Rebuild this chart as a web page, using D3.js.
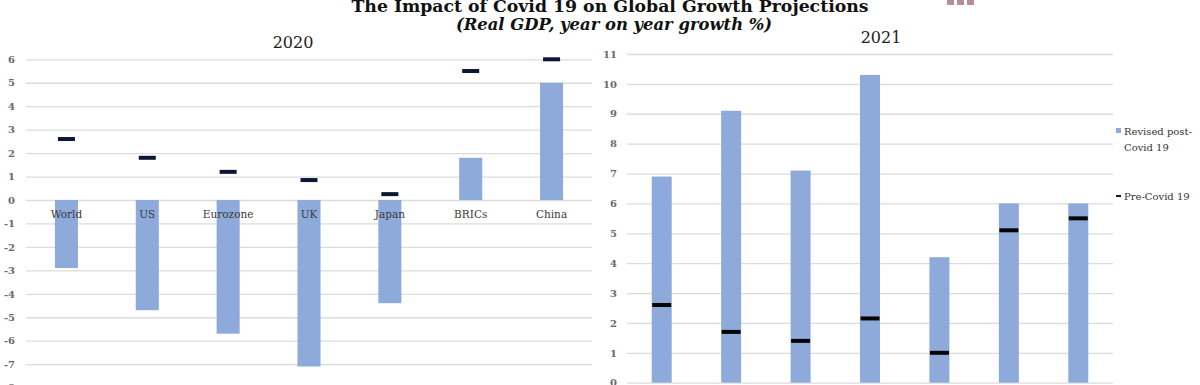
<!DOCTYPE html>
<html>
<head>
  <meta http-equiv="Content-Type" content="text/html; charset=UTF-8" />
  <title>The Impact of Covid 19 on Global Growth Projections</title>
  <style>
    body { padding: 0; margin: 0; background: #fff; }
    text { font-family: "DejaVu Serif", Georgia, serif; }
  </style>
</head>
<body>

<svg width="1200" height="385"></svg>

<script src="https://d3js.org/d3.v7.min.js"></script>
<script>

var categories = ["World", "US", "Eurozone", "UK", "Japan", "BRICs", "China"]

// 2020
var revised2020 = [-2.9, -4.7, -5.7, -7.1, -4.4, 1.8, 5.0]
var pre2020 = [2.6, 1.8, 1.2, 0.85, 0.25, 5.5, 6.0]
var ticks2020 = [-8, -7, -6, -5, -4, -3, -2, -1, 0, 1, 2, 3, 4, 5, 6]

// 2021
var revised2021 = [6.9, 9.1, 7.1, 10.3, 4.2, 6.0, 6.0]
var pre2021 = [2.6, 1.7, 1.4, 2.15, 1.0, 5.1, 5.5]
var ticks2021 = [0, 1, 2, 3, 4, 5, 6, 7, 8, 9, 10, 11]

var legendLabels = [["Revised post-", "Covid 19"], ["Pre-Covid 19"]]

var barColor = "#8eaadb"
var gridColor = "#dcdcdc"

var svg = d3.select("svg")

// titles
svg.append("text")
  .attr("x", 610).attr("y", 12)
  .attr("text-anchor", "middle")
  .style("font-size", "17.3px").style("font-weight", "bold")
  .style("fill", "#111")
  .text("The Impact of Covid 19 on Global Growth Projections")

svg.append("text")
  .attr("x", 614).attr("y", 30)
  .attr("text-anchor", "middle")
  .style("font-size", "16.4px").style("font-weight", "bold").style("font-style", "italic")
  .style("fill", "#111")
  .text("(Real GDP, year on year growth %)")

// little logo blocks, top right
svg.selectAll("rect.logo")
  .data([0, 1, 2])
  .enter().append("rect")
  .attr("class", "logo")
  .attr("x", d => 947 + d * 10)
  .attr("y", 0)
  .attr("width", 7)
  .attr("height", 5)
  .style("fill", "#b98c9b")

function panel(opts) {
  var x = d3.scaleBand()
    .domain(categories)
    .range([opts.left, opts.right])
    .paddingInner(opts.pad)
    .paddingOuter(opts.pad / 2)

  var y = d3.scaleLinear()
    .domain(opts.domain)
    .range(opts.yRange)

  var g = svg.append("g")

  var axis = g.append("g")
    .attr("transform", "translate(" + opts.left + ",0)")
    .call(d3.axisLeft(y)
      .tickValues(opts.ticks)
      .tickFormat(d => String(d))
      .tickSize(-(opts.right - opts.left))
      .tickPadding(opts.tickPad))

  axis.select(".domain").remove()
  axis.selectAll(".tick line")
    .style("stroke", gridColor)
    .style("stroke-width", 1.3)
  axis.selectAll(".tick text")
    .style("font-family", "'DejaVu Serif', serif")
    .style("font-size", "10px")
    .style("font-weight", "bold")
    .style("fill", "#6a6a6a")

  g.selectAll("rect.bar")
    .data(opts.revised)
    .enter().append("rect")
    .attr("class", "bar")
    .attr("x", (d, i) => x(categories[i]))
    .attr("width", x.bandwidth())
    .attr("y", d => y(Math.max(0, d)))
    .attr("height", d => Math.abs(y(d) - y(0)))
    .style("fill", barColor)

  g.selectAll("rect.pre")
    .data(opts.pre)
    .enter().append("rect")
    .attr("class", "pre")
    .attr("x", (d, i) => x(categories[i]) + x.bandwidth() / 2 - opts.markW / 2)
    .attr("width", opts.markW)
    .attr("y", d => y(d) - 2)
    .attr("height", 4)
    .style("fill", opts.markColor)

  if (opts.labels) {
    g.selectAll("text.cat")
      .data(categories)
      .enter().append("text")
      .attr("class", "cat")
      .attr("x", d => x(d) + x.bandwidth() / 2)
      .attr("y", y(0) + 18)
      .attr("text-anchor", "middle")
      .style("font-size", "10.5px")
      .style("fill", "#3a3a3a")
      .text(d => d)
  }

  svg.append("text")
    .attr("x", opts.titleX).attr("y", opts.titleY)
    .attr("text-anchor", "middle")
    .style("font-size", "16px")
    .style("fill", "#222")
    .text(opts.title)
}

panel({
  left: 26, right: 592, pad: 0.715,
  domain: [-8, 6], yRange: [387.6, 59.3],
  ticks: ticks2020, tickPad: 11,
  revised: revised2020, pre: pre2020,
  markW: 17, markColor: "#0a1836",
  labels: true,
  title: "2020", titleX: 293, titleY: 48
})

panel({
  left: 627, right: 1113, pad: 0.712,
  domain: [0, 11], yRange: [382.7, 54],
  ticks: ticks2021, tickPad: 10,
  revised: revised2021, pre: pre2021,
  markW: 19, markColor: "#050505",
  labels: false,
  title: "2021", titleX: 881, titleY: 43
})

// legend
var legend = svg.append("g").attr("transform", "translate(1116,0)")

legend.append("rect")
  .attr("x", 0).attr("y", 128).attr("width", 5).attr("height", 5)
  .style("fill", barColor)

legend.append("rect")
  .attr("x", 0).attr("y", 195).attr("width", 5).attr("height", 2)
  .style("fill", "#0a1836")

legend.selectAll("text.leg")
  .data(legendLabels)
  .enter().append("text")
  .attr("class", "leg")
  .attr("x", 8)
  .attr("y", (d, i) => i === 0 ? 135 : 200)
  .style("font-size", "10px")
  .style("fill", "#333")
  .each(function (d) {
    d3.select(this).selectAll("tspan")
      .data(d)
      .enter().append("tspan")
      .attr("x", 8)
      .attr("dy", (t, j) => j === 0 ? 0 : 16)
      .text(t => t)
  })

</script>
</body>
</html>
